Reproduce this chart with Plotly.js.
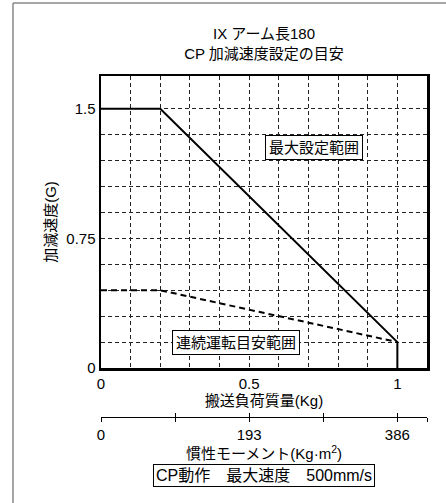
<!DOCTYPE html>
<html>
<head>
<meta charset="utf-8">
<script src="https://cdn.plot.ly/plotly-3.0.1.min.js"></script>
<style>html,body{margin:0;padding:0;background:#fff;}#chart{width:446px;height:503px;}</style>
</head>
<body>
<div id="chart"></div>
<script>
// ---- data ----
var maxLoad = [0, 0.2, 1.0, 1.0];          // 搬送負荷質量 (Kg)
var maxAccel = [1.5, 1.5, 0.15, 0];         // 最大設定範囲 (G)
var contLoad = [0, 0.2, 1.0];               // 搬送負荷質量 (Kg)
var contAccel = [0.45, 0.45, 0.15];         // 連続運転目安範囲 (G)
var xGridVals = [0, 0.1, 0.2, 0.3, 0.4, 0.5, 0.6, 0.7, 0.8, 0.9, 1.0];
var xTickText = ['0', ' ', ' ', ' ', ' ', '0.5', ' ', ' ', ' ', ' ', '1'];
var yGridVals = [0, 0.15, 0.3, 0.45, 0.6, 0.75, 0.9, 1.05, 1.2, 1.35, 1.5];
var yTickText = ['0', ' ', ' ', ' ', ' ', '0.75', ' ', ' ', ' ', ' ', '1.5'];
var momentVals = [0, 96.5, 193, 289.5, 386, 424.6];
var momentText = ['0', ' ', '193', ' ', '386', ' '];

var FONT = "'Liberation Sans', Arial, Helvetica, 'Noto Sans CJK JP', sans-serif";

var traces = [
  {x: maxLoad, y: maxAccel, type: 'scatter', mode: 'lines',
   line: {color: '#000', width: 2}, hoverinfo: 'skip', xaxis: 'x', yaxis: 'y'},
  {x: contLoad, y: contAccel, type: 'scatter', mode: 'lines',
   line: {color: '#000', width: 2, dash: '6px,4px'}, hoverinfo: 'skip', xaxis: 'x', yaxis: 'y'},
  {x: momentVals, y: momentVals.map(function(){return 0;}), type: 'scatter', mode: 'markers',
   marker: {opacity: 0}, hoverinfo: 'skip', xaxis: 'x2', yaxis: 'y2'},
  {x: momentVals, y: momentVals.map(function(){return 0;}), type: 'scatter', mode: 'markers',
   marker: {opacity: 0}, hoverinfo: 'skip', xaxis: 'x3', yaxis: 'y2'}
];

var L = 101, R = 19, T = 76, B = 86, W = 446, H = 503;
var pw = W - L - R, ph = H - T - B;
function px(v){ return (v - L) / pw; }
function py(v){ return (H - B - v) / ph; }

var layout = {
  width: W, height: H,
  margin: {l: L, r: R, t: T, b: B},
  paper_bgcolor: '#fff', plot_bgcolor: '#fff',
  showlegend: false,
  font: {family: FONT, size: 15, color: '#000'},
  title: {text: 'IX アーム長180<br>CP 加減速度設定の目安', font: {family: FONT, size: 15, color: '#000'},
          x: 0.5, xref: 'paper', xanchor: 'center', y: 1, yref: 'paper', yanchor: 'bottom',
          pad: {b: 37}},
  xaxis: {
    range: [0, 1.1], tickvals: xGridVals, ticktext: xTickText, ticks: '',
    showgrid: true, gridcolor: '#222', gridwidth: 1, griddash: '4px,3px',
    showline: true, mirror: true, linecolor: '#000', linewidth: 2.5, zeroline: false,
    anchor: 'y', tickfont: {family: FONT, size: 15},
    title: {text: '搬送負荷質量(Kg)', font: {family: FONT, size: 15}, standoff: 0},
    automargin: false, fixedrange: true
  },
  yaxis: {
    domain: [py(368), 1],
    range: [0, 1.69], tickvals: yGridVals, ticktext: yTickText, ticks: '',
    showgrid: true, gridcolor: '#222', gridwidth: 1, griddash: '4px,3px',
    showline: true, mirror: true, linecolor: '#000', linewidth: 2.5, zeroline: false,
    anchor: 'x', tickfont: {family: FONT, size: 15},
    title: {text: '加減速度(G)', font: {family: FONT, size: 15}, standoff: 6},
    automargin: false, fixedrange: true
  },
  yaxis2: {
    domain: [0, 0.002], anchor: 'x2', range: [-1, 1],
    showgrid: false, zeroline: false, showline: false, showticklabels: false, ticks: '',
    fixedrange: true
  },
  xaxis2: {
    anchor: 'y2', range: [0, 424.6], tickvals: momentVals, ticktext: momentText,
    ticks: 'outside', ticklen: 4, tickwidth: 1, tickcolor: '#000',
    showline: true, linecolor: '#000', linewidth: 1, showgrid: false, zeroline: false,
    tickfont: {family: FONT, size: 15},
    title: {text: '慣性モーメント(Kg·m<sup>2</sup>)', font: {family: FONT, size: 15}, standoff: 2},
    automargin: false, fixedrange: true
  },
  xaxis3: {
    anchor: 'y2', overlaying: 'x2', range: [0, 424.6], tickvals: momentVals,
    ticks: 'inside', ticklen: 4, tickwidth: 1, tickcolor: '#000',
    showticklabels: false, showline: false, showgrid: false, zeroline: false,
    automargin: false, fixedrange: true
  },
  annotations: [
    {text: '最大設定範囲', x: 0.72, y: 1.274, xref: 'x', yref: 'y', showarrow: false,
     bgcolor: '#fff', bordercolor: '#000', borderwidth: 1, borderpad: 3, font: {family: FONT, size: 15}},
    {text: '連続運転目安範囲', x: 0.456, y: 0.149, xref: 'x', yref: 'y', showarrow: false,
     bgcolor: '#fff', bordercolor: '#000', borderwidth: 1, borderpad: 3, font: {family: FONT, size: 15}},
    {text: 'CP動作　最大速度　500mm/s', x: px(264), y: py(475), xref: 'paper', yref: 'paper',
     xanchor: 'center', yanchor: 'middle', showarrow: false,
     bgcolor: '#fff', bordercolor: '#000', borderwidth: 1, borderpad: 2, font: {family: FONT, size: 16}}
  ],
  shapes: [
    {type: 'line', xref: 'paper', yref: 'paper', x0: px(13), y0: py(3), x1: px(446), y1: py(3),
     line: {color: '#888', width: 1.5}},
    {type: 'line', xref: 'paper', yref: 'paper', x0: px(13), y0: py(3), x1: px(13), y1: py(503),
     line: {color: '#888', width: 1.5}}
  ]
};

Plotly.newPlot('chart', traces, layout, {displayModeBar: false, staticPlot: true});
</script>
</body>
</html>
